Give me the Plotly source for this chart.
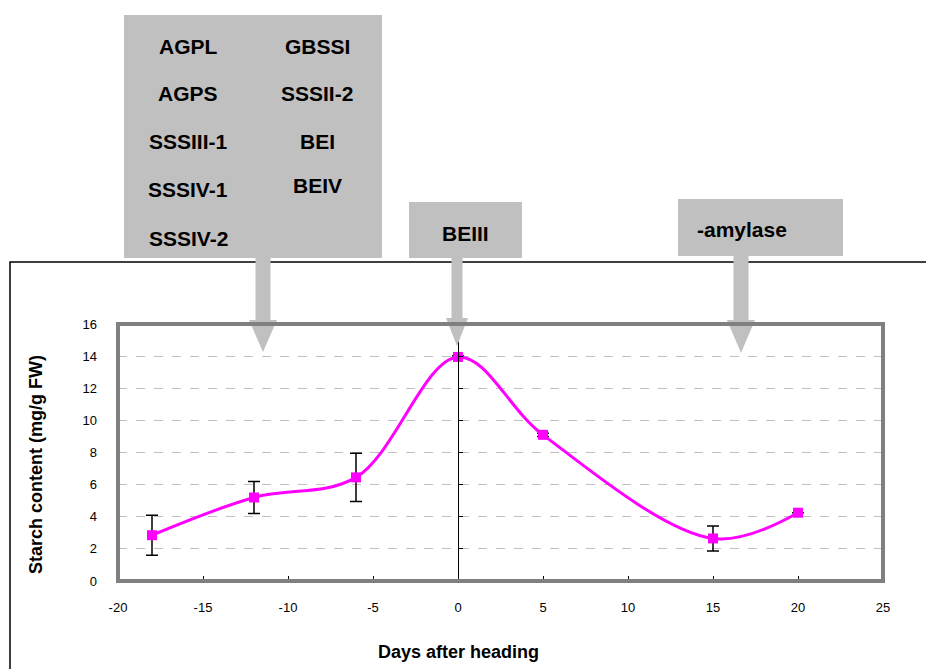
import plotly.graph_objects as go

# ---- data ----
days = [-18, -12, -6, 0, 5, 15, 20]
starch = [2.85, 5.2, 6.45, 13.95, 9.1, 2.65, 4.25]
starch_err = [1.25, 1.0, 1.5, 0.08, 0.1, 0.78, 0.0]

x_ticks = [-20, -15, -10, -5, 0, 5, 10, 15, 20, 25]
y_ticks = [0, 2, 4, 6, 8, 10, 12, 14, 16]

box1_col1 = ["AGPL", "AGPS", "SSSIII-1", "SSSIV-1", "SSSIV-2"]
box1_col2 = ["GBSSI", "SSSII-2", "BEI", "BEIV"]
box2_text = "BEIII"
box3_text = "-amylase"

OFF = 8                      # default body margin of the html page
W, H = 934 - OFF, 669 - OFF
L, R, T, B = 118, 883, 324, 581   # plot area in page pixels


def px(x):
    return (x - L) / (R - L)


def py(y):
    return (B - y) / (B - T)


FONT = "Arial, Liberation Sans, sans-serif"
GRAY = "#c0c0c0"

fig = go.Figure()
fig.add_trace(go.Scatter(
    x=days, y=starch, mode="lines+markers",
    line=dict(color="#ff00ff", width=3, shape="spline", smoothing=1.0),
    marker=dict(symbol="square", size=10, color="#ff00ff"),
    error_y=dict(type="data", array=starch_err, color="black", thickness=1.5, width=6),
    showlegend=False, hoverinfo="x+y",
))
# dummy trace on the crossing y axis at x = 0
fig.add_trace(go.Scatter(x=[0], y=[0], yaxis="y2", mode="markers",
                         marker=dict(opacity=0), showlegend=False, hoverinfo="skip"))

shapes = []
# outer chart-area border (left and top)
shapes.append(dict(type="path", xref="paper", yref="paper",
                   path=f"M {px(10)} {py(700)} L {px(10)} {py(262)} L {px(940)} {py(262)}",
                   line=dict(color="black", width=1.5), layer="above"))


def rect(x0, y0, x1, y1):
    return dict(type="rect", xref="paper", yref="paper",
                x0=px(x0), x1=px(x1), y0=py(y1), y1=py(y0),
                fillcolor=GRAY, line=dict(width=0), layer="above")


def arrow(cx, shaft_w, y_top, y_head, head_w, y_tip):
    pts = [(cx - shaft_w / 2, y_top), (cx + shaft_w / 2, y_top),
           (cx + shaft_w / 2, y_head), (cx + head_w / 2, y_head),
           (cx, y_tip), (cx - head_w / 2, y_head), (cx - shaft_w / 2, y_head)]
    p = "M " + " L ".join(f"{px(a)} {py(b)}" for a, b in pts) + " Z"
    return dict(type="path", xref="paper", yref="paper", path=p,
                fillcolor=GRAY, line=dict(width=0), layer="above")


shapes.append(rect(124, 15, 382, 258))
shapes.append(rect(409, 202, 522, 258))
shapes.append(rect(678, 199, 843, 256))
shapes.append(arrow(263, 15, 255, 320, 28, 352))
shapes.append(arrow(457, 11, 255, 318, 22, 346))
shapes.append(arrow(741, 15, 253, 320, 28, 353))
# plot-area border
shapes.append(dict(type="rect", xref="paper", yref="paper", x0=0, x1=1, y0=0, y1=1,
                   line=dict(color="#808080", width=4), layer="above"))

annotations = []
rows1 = [47, 93, 141, 189, 238]
rows2 = [47, 93, 141, 186]
for t, yy in zip(box1_col1, rows1):
    annotations.append(dict(x=px(188), y=py(yy), text=f"<b>{t}</b>"))
for t, yy in zip(box1_col2, rows2):
    annotations.append(dict(x=px(317), y=py(yy), text=f"<b>{t}</b>"))
annotations.append(dict(x=px(465), y=py(233), text=f"<b>{box2_text}</b>"))
annotations.append(dict(x=px(742), y=py(229), text=f"<b>{box3_text}</b>"))
for a in annotations:
    a.update(xref="paper", yref="paper", showarrow=False, xanchor="center",
             yanchor="middle", font=dict(family=FONT, size=21, color="black"))

annotations.append(dict(x=px(458), y=py(652), xref="paper", yref="paper", showarrow=False,
                        text="<b>Days after heading</b>", xanchor="center", yanchor="middle",
                        font=dict(family=FONT, size=18, color="black")))
annotations.append(dict(x=px(36), y=py(465), xref="paper", yref="paper", showarrow=False,
                        text="<b>Starch content (mg/g FW)</b>", textangle=-90,
                        xanchor="center", yanchor="middle",
                        font=dict(family=FONT, size=18, color="black")))

fig.update_layout(
    width=W, height=H,
    margin=dict(l=L - OFF, r=934 - R, t=T - OFF, b=669 - B, pad=0),
    paper_bgcolor="white", plot_bgcolor="white",
    shapes=shapes, annotations=annotations,
    xaxis=dict(range=[-20, 25], tickvals=x_ticks, ticktext=[str(v) for v in x_ticks],
               ticks="inside", ticklen=5, tickcolor="black", tickwidth=1,
               showline=True, linecolor="black", linewidth=1,
               showgrid=False, zeroline=False, ticklabelstandoff=14,
               tickfont=dict(family=FONT, size=13, color="black")),
    yaxis=dict(range=[0, 16], tickvals=y_ticks, ticktext=[str(v) for v in y_ticks],
               ticks="", showline=False, zeroline=False,
               showgrid=True, gridcolor=GRAY, griddash="dash", gridwidth=1,
               ticklabelstandoff=20,
               tickfont=dict(family=FONT, size=13, color="black")),
    yaxis2=dict(range=[0, 16], tickvals=y_ticks, overlaying="y", anchor="free",
                position=20 / 45, side="right", showline=True, linecolor="black",
                linewidth=1, ticks="outside", ticklen=4, tickcolor="black",
                showticklabels=False, showgrid=False, zeroline=False),
)

fig.write_html("out.html")
